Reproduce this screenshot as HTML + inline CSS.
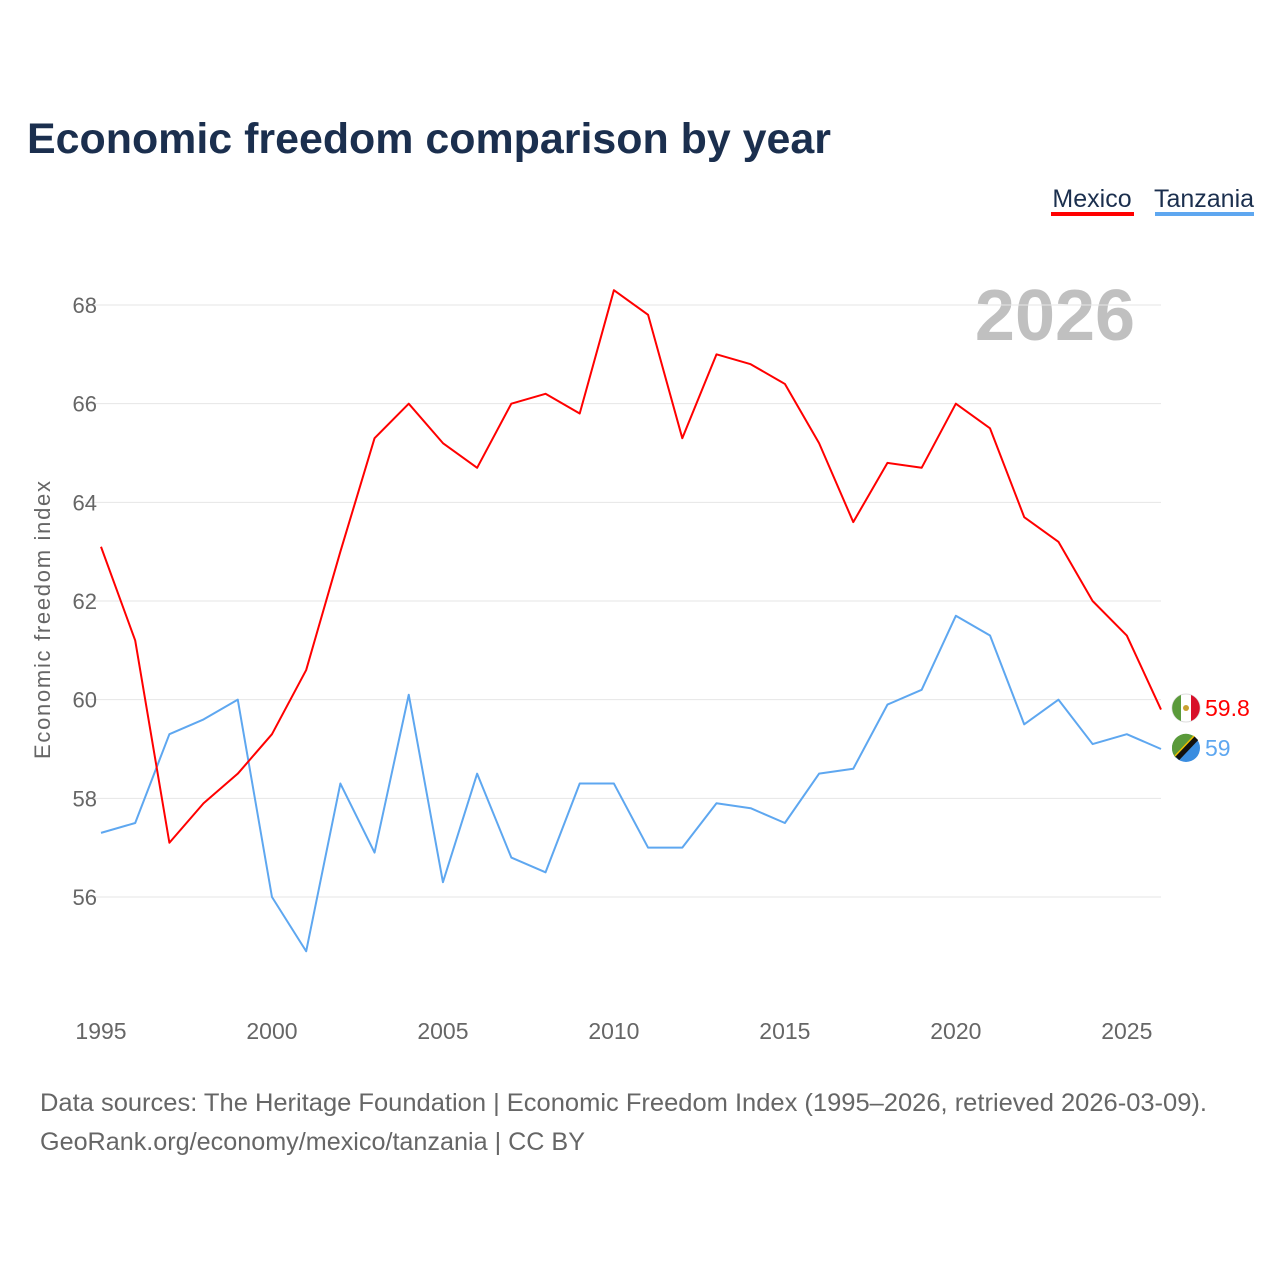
<!DOCTYPE html>
<html><head><meta charset="utf-8"><style>
body{margin:0;background:#fff;font-family:"Liberation Sans",sans-serif;}
svg text{font-family:"Liberation Sans",sans-serif;}
</style></head><body>
<svg id="chart" width="1280" height="1280" viewBox="0 0 1280 1280">
<text x="27" y="153" font-size="43" font-weight="bold" fill="#1b2f4e" textLength="804" lengthAdjust="spacingAndGlyphs">Economic freedom comparison by year</text>
<g>
<text x="1092" y="207" font-size="25" fill="#1b2f4e" text-anchor="middle">Mexico</text>
<rect x="1051" y="212" width="83" height="4" fill="#ff0000"/>
<text x="1204" y="207" font-size="25" fill="#1b2f4e" text-anchor="middle">Tanzania</text>
<rect x="1155" y="212" width="99" height="4" fill="#5ea7f0"/>
</g>
<text x="1055" y="340" font-size="72" font-weight="bold" fill="#c0c0c0" text-anchor="middle">2026</text>
<text transform="translate(50,620) rotate(-90)" font-size="22" fill="#666" text-anchor="middle" textLength="278">Economic freedom index</text>
<g id="grid"></g><g id="lines"></g>
<g>
<circle cx="1186" cy="708" r="14" fill="#fff" stroke="#ddd"/>
<path d="M1181,695 a14,14 0 0,0 0,26 Z" fill="#5a9a3a"/>
<path d="M1191,695 a14,14 0 0,1 0,26 Z" fill="#d8102a"/>
<circle cx="1186" cy="708" r="3" fill="#c8a030"/>
<text x="1205" y="716" font-size="23" fill="#ff0000">59.8</text>
<circle cx="1186" cy="748" r="14" fill="#3a8de0"/>
<path d="M1172,748 a14,14 0 0,1 24,-10 L1176,758 a14,14 0 0,1 -4,-10Z" fill="#5a9a3a"/>
<line x1="1177" y1="758" x2="1196" y2="738" stroke="#111" stroke-width="6"/>
<line x1="1175" y1="756" x2="1194" y2="736" stroke="#f0c000" stroke-width="1.5"/>
<text x="1205" y="756" font-size="23" fill="#5ea7f0">59</text>
</g>
<text x="40" y="1111" font-size="25" fill="#666" textLength="1167" lengthAdjust="spacingAndGlyphs">Data sources: The Heritage Foundation | Economic Freedom Index (1995–2026, retrieved 2026-03-09).</text>
<text x="40" y="1150" font-size="25" fill="#666" textLength="545" lengthAdjust="spacingAndGlyphs">GeoRank.org/economy/mexico/tanzania | CC BY</text>
</svg>
<script>
const years=[];for(let y=1995;y<=2026;y++)years.push(y);
const mexico=[63.1,61.2,57.1,57.9,58.5,59.3,60.6,63.0,65.3,66.0,65.2,64.7,66.0,66.2,65.8,68.3,67.8,65.3,67.0,66.8,66.4,65.2,63.6,64.8,64.7,66.0,65.5,63.7,63.2,62.0,61.3,59.8];
const tanzania=[57.3,57.5,59.3,59.6,60.0,56.0,54.9,58.3,56.9,60.1,56.3,58.5,56.8,56.5,58.3,58.3,57.0,57.0,57.9,57.8,57.5,58.5,58.6,59.9,60.2,61.7,61.3,59.5,60.0,59.1,59.3,59.0];
const yTicks=[56,58,60,62,64,66,68];
const xTicks=[1995,2000,2005,2010,2015,2020,2025];
const xs=y=>101+(y-1995)*(1161-101)/31;
const ys=v=>305+(68-v)*(897-305)/12;
const NS="http://www.w3.org/2000/svg";
const grid=document.getElementById('grid'),lines=document.getElementById('lines');
function mk(t,a,p){const e=document.createElementNS(NS,t);for(const k in a)e.setAttribute(k,a[k]);p.appendChild(e);return e;}
yTicks.forEach(v=>{
 const l=mk('line',{x1:85,x2:1161,y1:ys(v),y2:ys(v),stroke:'#e6e6e6'},grid);
 
 
 const t=mk('text',{x:97,y:ys(v)+8,'font-size':22,fill:'#666','text-anchor':'end'},grid);t.textContent=v;
 
 
});
xTicks.forEach(y=>{
 const t=mk('text',{x:xs(y),y:1039,'font-size':23,fill:'#666','text-anchor':'middle'},grid);t.textContent=y;
 
 
});
function line(data,color,name){
 const p=mk('polyline',{points:data.map((v,i)=>xs(years[i])+','+ys(v)).join(' '),fill:'none',stroke:color,'stroke-width':2,'stroke-linejoin':'round'},lines);
 
 
}
line(tanzania,'#5ea7f0','tanzania-line');
line(mexico,'#ff0000','mexico-line');
</script>
</body></html>
